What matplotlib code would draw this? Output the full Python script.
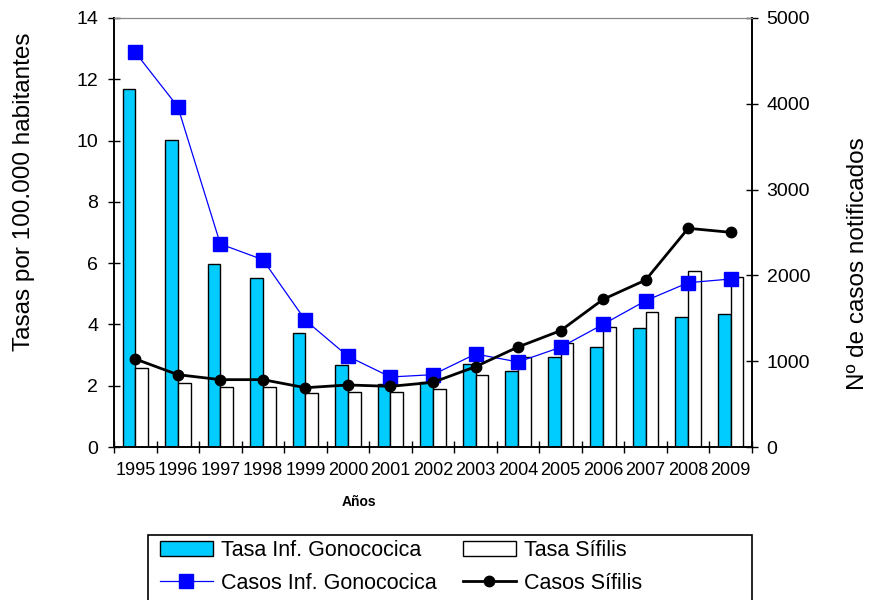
import numpy as np
import matplotlib
matplotlib.use("Agg")
from matplotlib import pyplot as plt
from matplotlib.patches import Rectangle

plt.rcParams['font.family'] = ['Liberation Sans', 'DejaVu Sans']

anos = ['1995', '1996', '1997', '1998', '1999', '2000', '2001', '2002',
        '2003', '2004', '2005', '2006', '2007', '2008', '2009']
tasa_gono = [11.67, 10.03, 5.97, 5.52, 3.73, 2.68, 2.05, 2.13,
             2.72, 2.47, 2.94, 3.27, 3.87, 4.25, 4.33]
tasa_sifilis = [2.59, 2.08, 1.97, 1.97, 1.75, 1.80, 1.80, 1.88,
                2.35, 2.95, 3.40, 3.91, 4.42, 5.73, 5.56]
casos_gono = [4600, 3966, 2366, 2183, 1477, 1057, 816, 843,
              1084, 991, 1162, 1430, 1705, 1915, 1958]
casos_sifilis = [1026, 843, 785, 785, 691, 723, 707, 754,
                 936, 1166, 1356, 1721, 1946, 2549, 2502]

W, H = 872, 600
fig = plt.figure(figsize=(W / 100, H / 100), dpi=100)
ax = fig.add_axes([114 / W, 1 - 447 / H, 638 / W, 429 / H])
ax2 = ax.twinx()

x = np.arange(len(anos))
b1 = ax.bar(x - 0.15, tasa_gono, 0.3, color='#00CCFF', edgecolor='black', linewidth=1)
b2 = ax.bar(x + 0.15, tasa_sifilis, 0.3, color='white', edgecolor='black', linewidth=1)

l1, = ax2.plot(x, casos_gono, color='#0000FF', lw=0.9, marker='s', ms=9.5,
               mfc='#0000FF', mec='#0000FF')
l2, = ax2.plot(x, casos_sifilis, color='black', lw=2, marker='o', ms=7.5)

ax.set_xlim(-0.5, len(anos) - 0.5)
ax.set_ylim(0, 14)
ax2.set_ylim(0, 5000)
ax.set_yticks(np.arange(0, 15, 2))
ax2.set_yticks(np.arange(0, 5001, 1000))

ax.set_xticks(np.arange(len(anos) + 1) - 0.5)
ax.set_xticklabels([])
ax.set_xticks(x, minor=True)
ax.set_xticklabels(anos, minor=True, fontsize=13)
ax.tick_params(axis='x', which='major', direction='inout', length=8, width=1)
ax.tick_params(axis='x', which='minor', length=0, pad=11)
ax.tick_params(axis='y', direction='inout', length=9, width=1, labelsize=14, pad=7)
ax2.tick_params(axis='y', direction='inout', length=9, width=1, labelsize=14, pad=6)

for a in (ax, ax2):
    a.spines['top'].set_color('#888888')
    a.spines['left'].set_linewidth(1.2)
    a.spines['right'].set_linewidth(1.2)
    a.spines['bottom'].set_linewidth(1.2)

fig.text(24 / W, 1 - 192 / H, 'Tasas por 100.000 habitantes', rotation=90,
         ha='center', va='center', fontsize=17.5)
fig.text(858 / W, 1 - 264 / H, 'Nº de casos notificados', rotation=90,
         ha='center', va='center', fontsize=17.5)
fig.text(359 / W, 1 - 502 / H, 'Años', ha='center', va='center',
         fontsize=10, fontweight='bold')

# marco de la leyenda (se corta en el borde inferior)
fig.patches.append(Rectangle((148 / W, -0.05), 604 / W, 0.05 + 65 / H,
                             transform=fig.transFigure, facecolor='white',
                             edgecolor='black', linewidth=1.2, zorder=5))
leg = fig.legend([b1, l1, b2, l2],
                 ['Tasa Inf. Gonococica', 'Casos Inf. Gonococica', 'Tasa Sífilis', 'Casos Sífilis'],
                 ncol=2, loc='upper left', bbox_to_anchor=(160 / W, 1 - 540 / H),
                 frameon=False, fontsize=15.5, handlelength=2.45, handletextpad=0.4,
                 columnspacing=1.2, labelspacing=0.55, borderpad=0, borderaxespad=0)
leg.set_zorder(6)

fig.savefig('out.png', dpi=100)
